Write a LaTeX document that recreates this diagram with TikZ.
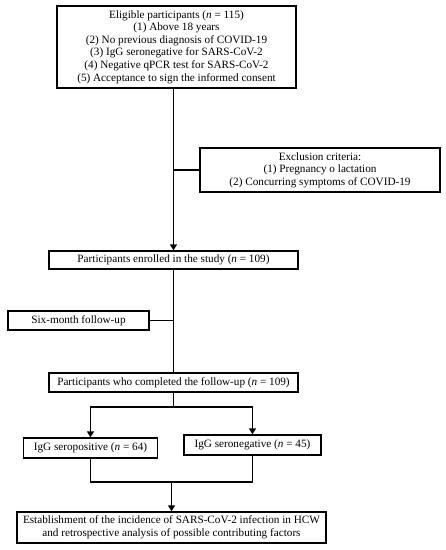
\documentclass[tikz,border=0pt]{standalone}
\usepackage{fontspec}
\setmainfont{Liberation Serif}
\usetikzlibrary{arrows.meta,calc}
\begin{document}
\begin{tikzpicture}[x=1pt,y=-1pt,
  box/.style={draw,line width=1.4pt,inner sep=0pt,align=center,font=\fontsize{11.2}{12.6}\selectfont},
  conn/.style={line width=1.4pt},
  arr/.style={line width=1.4pt,-{Triangle[length=6pt,width=7pt]}}]
\useasboundingbox (0,0) rectangle (446,550);
\node[box,minimum width=239pt,minimum height=82pt] (elig) at (176.5,47) {Eligible participants (\textit{n} = 115)\\(1) Above 18 years\\(2) No previous diagnosis of COVID-19\\(3) IgG seronegative for SARS-CoV-2\\(4) Negative qPCR test for SARS-CoV-2\\(5) Acceptance to sign the informed consent};
\node[box,minimum width=240pt,minimum height=44pt] (excl) at (320,170) {Exclusion criteria:\\(1) Pregnancy o lactation\\(2) Concurring symptoms of COVID-19};
\node[box,minimum width=249pt,minimum height=18pt] (enr) at (173.5,260) {Participants enrolled in the study (\textit{n} = 109)};
\node[box,minimum width=141pt,minimum height=19pt] (six) at (78.5,320.5) {Six-month follow-up};
\node[box,minimum width=249pt,minimum height=19pt] (comp) at (173.5,382.5) {Participants who completed the follow-up (\textit{n} = 109)};
\node[box,minimum width=134pt,minimum height=20pt] (pos) at (90.5,448) {IgG seropositive (\textit{n} = 64)};
\node[box,minimum width=137pt,minimum height=20pt] (neg) at (252.5,445) {IgG seronegative (\textit{n} = 45)};
\node[box,minimum width=309pt,minimum height=31pt] (est) at (171.5,527.5) {Establishment of the incidence of SARS-CoV-2 infection in HCW\\and retrospective analysis of possible contributing factors};
\coordinate (split) at (173.5,407);
\coordinate (join) at (171.5,482);
\draw[arr] (enr.north |- elig.south) -- (enr.north);
\draw[conn] (excl.west) -- (excl.west -| enr.north);
\draw[conn] (six.east) -- (six.east -| enr.north);
\draw[conn] (enr.south) -- (comp.north);
\draw[conn] (comp.south) -- (split);
\draw[arr] (split) -| (pos.north);
\draw[arr] (split) -| (neg.north);
\draw[conn] (pos.south) |- (join);
\draw[conn] (neg.south) |- (join);
\draw[arr] (join) -- (est.north);
\end{tikzpicture}
\end{document}
